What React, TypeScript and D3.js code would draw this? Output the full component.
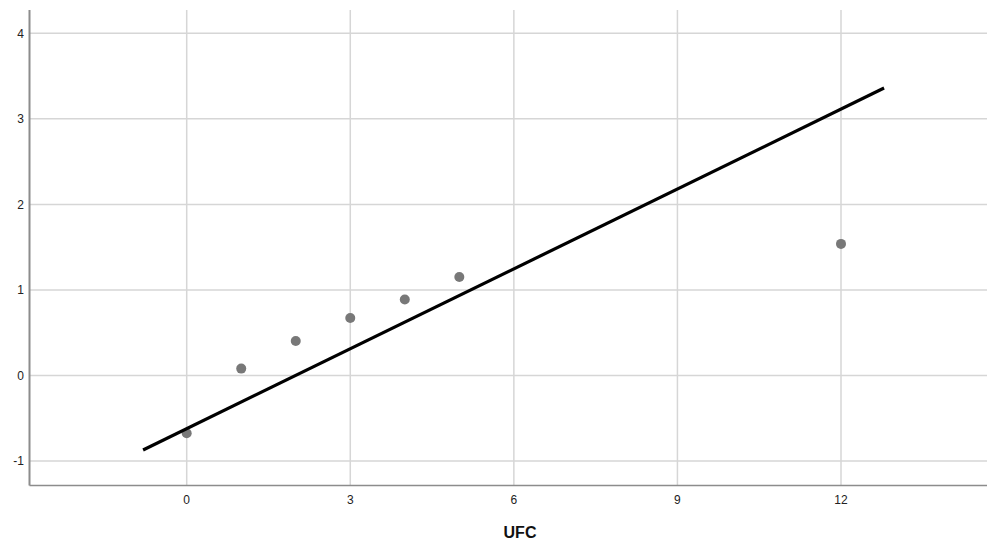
import React from "react";
import * as d3 from "d3";

const xTicks = [0, 3, 6, 9, 12];
const yTicks = [-1, 0, 1, 2, 3, 4];
const pointX = [0, 1, 2, 3, 4, 5, 12];
const pointY = [-0.676, 0.08, 0.403, 0.672, 0.887, 1.152, 1.538];
const lineX = [-0.8, 12.79];
const lineY = [-0.871, 3.36];
const xTitle = "UFC";

export default function App() {
  const W = 987, H = 547;
  const left = 29.5, right = 987, top = 10, bottom = 485.5;
  const x = d3.scaleLinear().domain([0, 12]).range([186.7, 841]);
  const y = d3.scaleLinear().domain([-1, 4]).range([461, 33.3]);
  const line = d3.line<number>().x((d) => x(lineX[d])).y((d) => y(lineY[d]));
  const font = "Arial, 'Liberation Sans', sans-serif";
  return (
    <svg width={W} height={H} style={{ position: "absolute", left: 0, top: 0, background: "#fff" }} fontFamily={font}>
      {xTicks.map((t) => (
        <line key={"gx" + t} x1={x(t)} x2={x(t)} y1={top} y2={bottom} stroke="#d6d6d6" strokeWidth={1.5} />
      ))}
      {yTicks.map((t) => (
        <line key={"gy" + t} x1={left} x2={right} y1={y(t)} y2={y(t)} stroke="#d6d6d6" strokeWidth={1.5} />
      ))}
      <line x1={left} x2={left} y1={top} y2={bottom} stroke="#8c8c8c" strokeWidth={2} />
      <line x1={left} x2={right} y1={bottom} y2={bottom} stroke="#8c8c8c" strokeWidth={1.5} />
      {yTicks.map((t) => (
        <text key={"ty" + t} x={24} y={y(t)} dy="0.35em" textAnchor="end" fontSize={12} fill="#222">
          {t}
        </text>
      ))}
      {xTicks.map((t) => (
        <text key={"tx" + t} x={x(t)} y={500} dy="0.35em" textAnchor="middle" fontSize={12} fill="#222">
          {t}
        </text>
      ))}
      {pointX.map((v, i) => (
        <circle key={"p" + i} cx={x(v)} cy={y(pointY[i])} r={5} fill="#787878" />
      ))}
      <path d={line([0, 1]) || ""} stroke="#000" strokeWidth={3.2} fill="none" />
      <text x={520} y={538} textAnchor="middle" fontSize={16} fontWeight="bold" fill="#111">
        {xTitle}
      </text>
    </svg>
  );
}
